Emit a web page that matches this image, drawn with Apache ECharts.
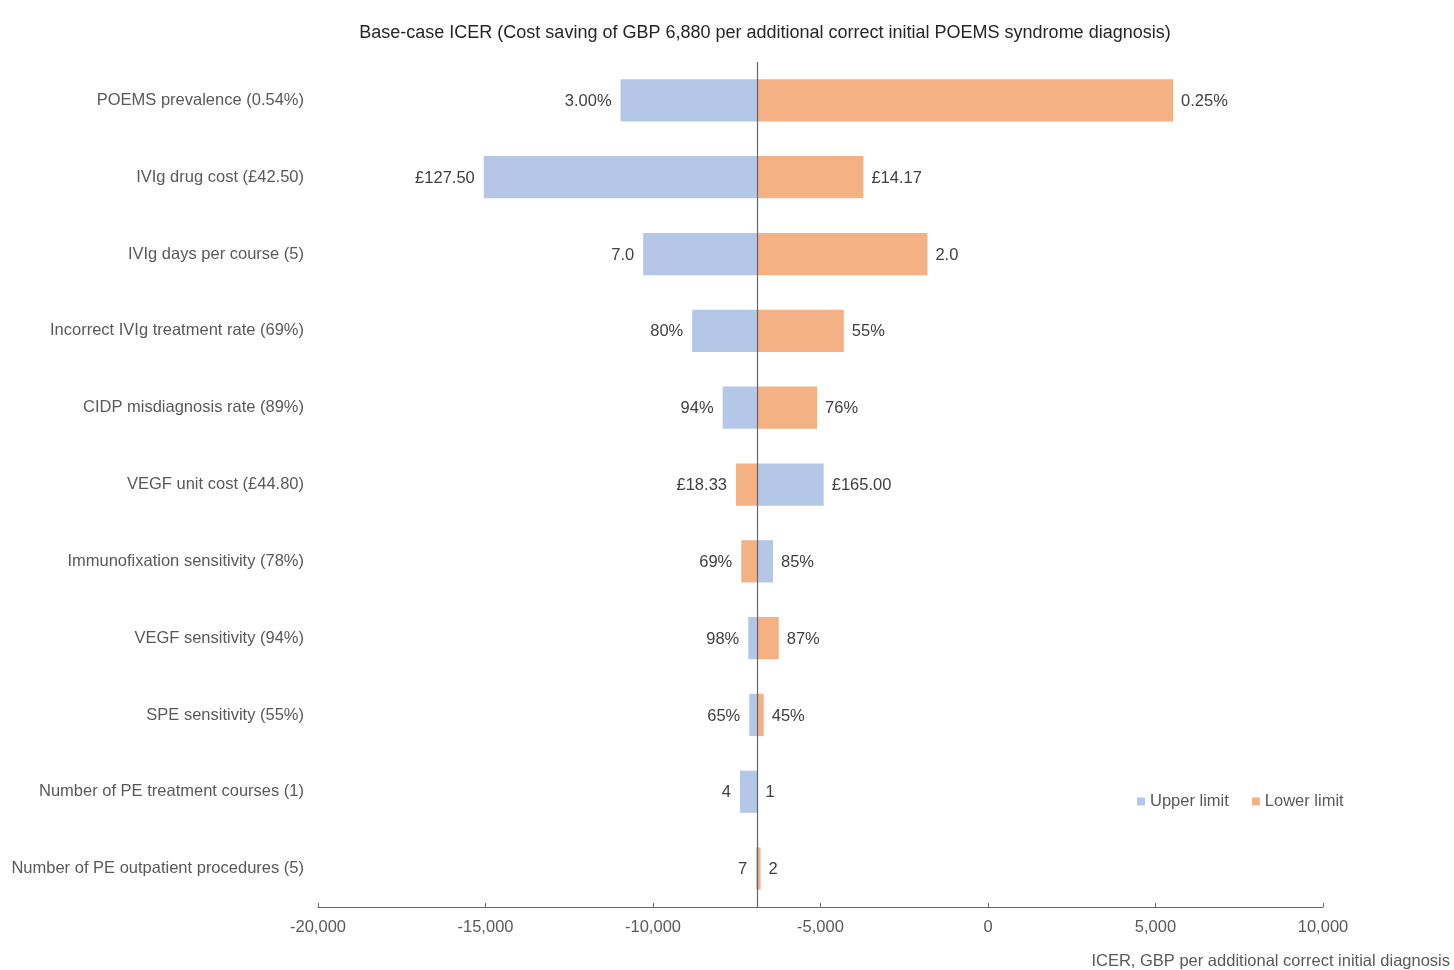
<!DOCTYPE html>
<html>
<head>
<meta charset="utf-8">
<script src="https://cdn.jsdelivr.net/npm/echarts@6/dist/echarts.min.js"></script>
<style>
html,body{margin:0;padding:0;background:#fff;}
#chart{width:1454px;height:970px;}
</style>
</head>
<body>
<div id="chart"></div>
<script>
var BASE = -6880;
var categories = [
  'POEMS prevalence (0.54%)',
  'IVIg drug cost (£42.50)',
  'IVIg days per course (5)',
  'Incorrect IVIg treatment rate (69%)',
  'CIDP misdiagnosis rate (89%)',
  'VEGF unit cost (£44.80)',
  'Immunofixation sensitivity (78%)',
  'VEGF sensitivity (94%)',
  'SPE sensitivity (55%)',
  'Number of PE treatment courses (1)',
  'Number of PE outpatient procedures (5)'
];
var upperValues = [-10968, -15052, -10293, -8829, -7921, -4903, -6418, -7156, -7126, -7404, -6920];
var upperLabels = ['3.00%', '£127.50', '7.0', '80%', '94%', '£165.00', '85%', '98%', '65%', '4', '7'];
var lowerValues = [5524, -3720, -1808, -4305, -5103, -7523, -7365, -6247, -6695, -6880, -6790];
var lowerLabels = ['0.25%', '£14.17', '2.0', '55%', '76%', '£18.33', '69%', '87%', '45%', '1', '2'];

var FONT = 'Liberation Sans, Arial, sans-serif';
var FS = 16.5;
var BLUE = '#b4c7e7';
var ORANGE = '#f4b183';

function makeData(values, labels) {
  return values.map(function (v, i) { return [v, i, labels[i]]; });
}

function makeRender(color, labels) {
  return function (params, api) {
    var val = api.value(0);
    var idx = api.value(1);
    var p0 = api.coord([BASE, idx]);
    var p1 = api.coord([val, idx]);
    var h = api.size([0, 1])[1] * 0.55;
    var x = Math.min(p0[0], p1[0]);
    var w = Math.abs(p1[0] - p0[0]);
    var left = val < BASE;
    var tx = left ? p1[0] - 9 : p1[0] + 8;
    return {
      type: 'group',
      children: [
        {
          type: 'rect',
          shape: { x: x, y: p0[1] - h / 2, width: w, height: h },
          style: { fill: color }
        },
        {
          type: 'text',
          x: tx,
          y: p0[1] + 1,
          style: {
            text: labels[params.dataIndex],
            fill: '#404040',
            font: FS + 'px ' + FONT,
            align: left ? 'right' : 'left',
            verticalAlign: 'middle'
          }
        }
      ]
    };
  };
}

var chart = echarts.init(document.getElementById('chart'));
chart.setOption({
  backgroundColor: '#ffffff',
  animation: false,
  title: {
    text: 'Base-case ICER (Cost saving of GBP 6,880 per additional correct initial POEMS syndrome diagnosis)',
    left: 760,
    textAlign: 'center',
    top: 19,
    textStyle: { fontFamily: FONT, fontSize: 18, fontWeight: 'normal', color: '#262626' }
  },
  legend: {
    data: ['Upper limit', 'Lower limit'],
    left: 1132,
    top: 788,
    icon: 'rect',
    itemWidth: 8,
    itemHeight: 8,
    itemGap: 23,
    textStyle: { fontFamily: FONT, fontSize: FS, color: '#595959' }
  },
  grid: { left: 318, right: 131, top: 62, bottom: 63, containLabel: false },
  xAxis: {
    type: 'value',
    min: -20000,
    max: 10000,
    interval: 5000,
    splitLine: { show: false },
    axisLine: { show: true, lineStyle: { color: '#5f6b7a', width: 1 } },
    axisTick: { show: true, inside: true, length: 4, lineStyle: { color: '#5f6b7a' } },
    axisLabel: {
      margin: 12,
      fontFamily: FONT,
      fontSize: FS,
      color: '#595959',
      formatter: function (v) { return v.toLocaleString('en-US'); }
    }
  },
  yAxis: {
    type: 'category',
    data: categories,
    inverse: true,
    axisLine: { show: false },
    axisTick: { show: false },
    splitLine: { show: false },
    axisLabel: { margin: 14, fontFamily: FONT, fontSize: FS, color: '#595959' }
  },
  graphic: [
    {
      type: 'text',
      right: 4,
      top: 953,
      style: {
        text: 'ICER, GBP per additional correct initial diagnosis',
        font: FS + 'px ' + FONT,
        fill: '#595959'
      }
    }
  ],
  series: [
    {
      name: 'Upper limit',
      type: 'custom',
      itemStyle: { color: BLUE },
      encode: { x: 0, y: 1 },
      renderItem: makeRender(BLUE, upperLabels),
      data: makeData(upperValues, upperLabels),
      z: 2
    },
    {
      name: 'Lower limit',
      type: 'custom',
      itemStyle: { color: ORANGE },
      encode: { x: 0, y: 1 },
      renderItem: makeRender(ORANGE, lowerLabels),
      data: makeData(lowerValues, lowerLabels),
      z: 2
    },
    {
      name: 'base',
      type: 'custom',
      encode: { x: 0, y: 1 },
      data: [[BASE, 0]],
      z: 5,
      silent: true,
      renderItem: function (params, api) {
        var cs = params.coordSys;
        var px = api.coord([BASE, 0])[0];
        return {
          type: 'line',
          shape: { x1: px, y1: cs.y, x2: px, y2: cs.y + cs.height },
          style: { stroke: '#5a6779', lineWidth: 1.2 }
        };
      }
    }
  ]
});
</script>
</body>
</html>
